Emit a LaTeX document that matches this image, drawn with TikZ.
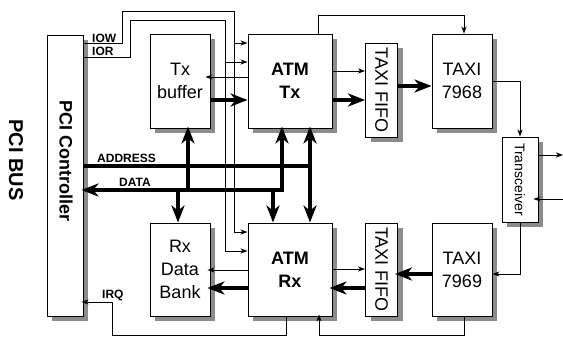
\documentclass[tikz,border=0pt]{standalone}
\usepackage{fontspec}
\setmainfont{Liberation Sans}
\usetikzlibrary{arrows.meta,shadows}
\begin{document}
\begin{tikzpicture}[x=1pt,y=-1pt,
  box/.style={draw=black,line width=0.9pt,fill=white,inner sep=0pt,align=center,
     font=\fontsize{18}{23}\selectfont,
     drop shadow={shadow xshift=5pt,shadow yshift=-5pt,fill=black!45,opacity=1}},
  thinarr/.style={line width=0.8pt,-{Stealth[length=7pt,width=5pt,inset=2pt]}},
  thickarr/.style={line width=3.5pt,-{Stealth[length=17pt,width=13pt,inset=5pt]}},
  dblarr/.style={line width=3.5pt,{Stealth[length=17pt,width=13pt,inset=5pt]}-{Stealth[length=17pt,width=13pt,inset=5pt]}},
  bus/.style={line width=3.5pt},
  lbl/.style={font=\fontsize{12}{14}\selectfont\bfseries,inner sep=0pt}
]
\useasboundingbox (0,0) rectangle (563,340);

% boxes
\node[box,minimum width=36pt,minimum height=281pt] (ctrl) at (65,175.5) {};
\node[font=\fontsize{18}{22}\selectfont\bfseries,inner sep=0pt] (ctrllbl) at (66,161) {\rotatebox{-90}{PCI Controller}};
\node[font=\fontsize{20}{24}\selectfont\bfseries,inner sep=0pt] (pcibus) at (16,160) {\rotatebox{-90}{PCI BUS}};

\node[box,minimum width=60pt,minimum height=94pt] (txbuf) at (180,81) {Tx\\buffer};
\node[box,minimum width=84pt,minimum height=94pt,font=\fontsize{18}{23}\selectfont\bfseries] (atmtx) at (290,81) {ATM\\Tx};
\node[box,minimum width=32pt,minimum height=94pt] (fifotx) at (381.5,90) {\rotatebox{-90}{TAXI FIFO}};
\node[box,minimum width=60pt,minimum height=94pt] (taxi68) at (462,81) {TAXI\\7968};
\node[box,minimum width=36pt,minimum height=85pt,font=\fontsize{14}{17}\selectfont] (trans) at (520,179.5) {\rotatebox{-90}{Transceiver}};

\node[box,minimum width=60pt,minimum height=93pt] (rxbank) at (180,269.5) {Rx\\Data\\Bank};
\node[box,minimum width=84pt,minimum height=93pt,font=\fontsize{18}{23}\selectfont\bfseries] (atmrx) at (290,269.5) {ATM\\Rx};
\node[box,minimum width=32pt,minimum height=93pt] (fiforx) at (381.5,269.5) {\rotatebox{-90}{TAXI FIFO}};
\node[box,minimum width=60pt,minimum height=93pt] (taxi69) at (462,269.5) {TAXI\\7969};

% free ends
\coordinate (out1) at (563,155);
\coordinate (in1) at (563,199);

% IOW / IOR
\draw[thinarr] (ctrl.east |- 0,43) -- (122,43) -- (122,11) -- (234,11) -- (234,232) -- (atmrx.west |- 0,232);
\draw[thinarr] (234,43) -- (atmtx.west |- 0,43);
\draw[thinarr] (ctrl.east |- 0,57) -- (130,57) -- (130,20) -- (225,20) -- (225,251) -- (atmrx.west |- 0,251);
\draw[thinarr] (225,62) -- (atmtx.west |- 0,62);
\node[lbl,anchor=base west] (iow) at (92,42) {IOW};
\node[lbl,anchor=base west] (ior) at (92,56) {IOR};

% Tx side
\draw[thinarr,shorten >=-5pt] (atmtx.west |- 0,77) -- (txbuf.east |- 0,77);
\draw[thickarr] (txbuf.east |- 0,100) -- (atmtx.west |- 0,100);
\draw[thinarr] (atmtx.east |- 0,71) -- (fifotx.west |- 0,71);
\draw[thickarr] (atmtx.east |- 0,100) -- (fifotx.west |- 0,100);
\draw[thickarr] (fifotx.east |- 0,86) -- (taxi68.west |- 0,86);
\draw[thinarr] (atmtx.north -| 318,0) |- (464,15) -- (taxi68.north -| 464,0);
\draw[thinarr] (taxi68.east |- 0,81) -| (trans.north);
\draw[thinarr] (trans.east |- out1) -- (out1);
\draw[thinarr,shorten >=-5pt] (in1) -- (trans.east |- in1);
\draw[thinarr] (trans.south) |- (taxi69.east |- 0,274);

% Rx side
\draw[thickarr,shorten >=-3pt] (taxi69.west |- 0,274) -- (fiforx.east |- 0,274);
\draw[thickarr,shorten >=-3pt] (fiforx.west |- 0,288) -- (atmrx.east |- 0,288);
\draw[thinarr] (atmrx.east |- 0,269) -- (fiforx.west |- 0,269);
\draw[thinarr,shorten >=-3pt] (atmrx.west |- 0,270) -- (rxbank.east |- 0,270);
\draw[thickarr,shorten >=-3pt] (atmrx.west |- 0,288) -- (rxbank.east |- 0,288);
\draw[thinarr,shorten >=-2pt] (taxi69.south -| 464,0) |- (319,335) -- (atmrx.south -| 319,0);
\draw[thinarr,shorten >=-2pt] (atmrx.south -| 286,0) |- (112,335) |- (ctrl.east |- 0,302);
\node[lbl,anchor=base west] (irq) at (102,298) {IRQ};

% buses
\draw[bus] (ctrl.east |- 0,166) -- (310,166);
\draw[dblarr,shorten <=-2pt,shorten >=-2pt] (ctrl.east |- 0,190) -- (282,190) -- (atmtx.south -| 282,0);
\draw[thickarr,shorten >=-2pt] (188,190) -- (txbuf.south -| 188,0);
\draw[thickarr] (178,190) -- (rxbank.north -| 178,0);
\draw[thickarr] (273,190) -- (atmrx.north -| 273,0);
\draw[dblarr,shorten <=-2pt] (atmtx.south -| 310,0) -- (atmrx.north -| 310,0);
\node[lbl,anchor=base west] (addr) at (97,162) {ADDRESS};
\node[lbl,anchor=base west] (data) at (119,186) {DATA};
\end{tikzpicture}
\end{document}
